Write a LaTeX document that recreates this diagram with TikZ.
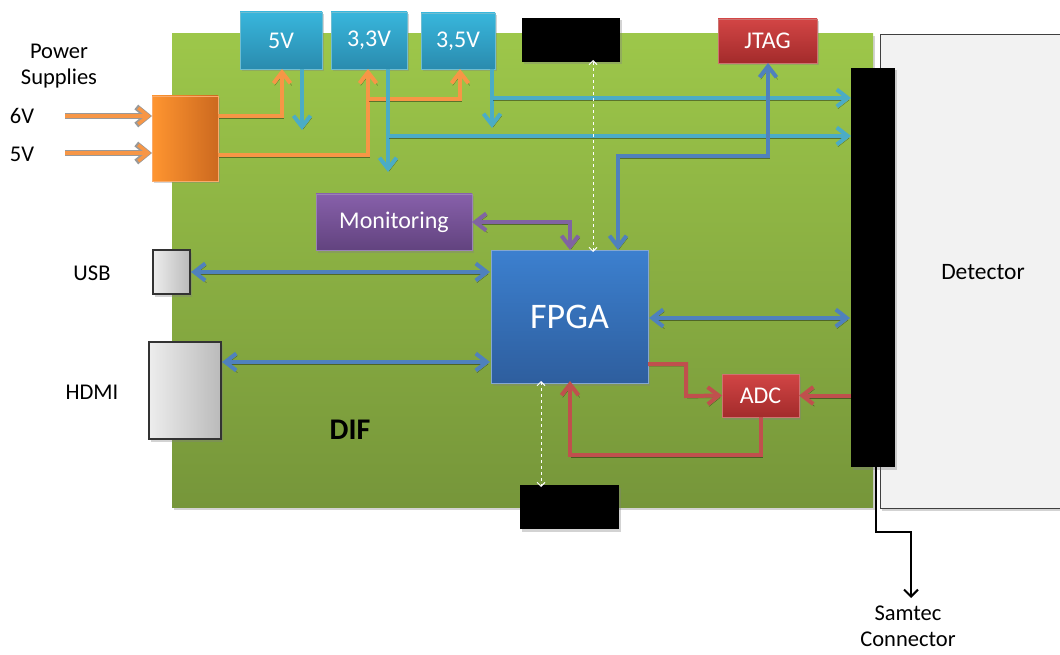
\documentclass[tikz,border=0pt]{standalone}
\usepackage{fontspec}
\setmainfont{Carlito}
\usetikzlibrary{arrows.meta,shadows}
\definecolor{boardtop}{HTML}{9DC74A}
\definecolor{boardbot}{HTML}{76963A}
\definecolor{tealtop}{HTML}{38B6DC}
\definecolor{tealbot}{HTML}{2A8BAE}
\definecolor{redtop}{HTML}{D24545}
\definecolor{redbot}{HTML}{A32B2B}
\definecolor{purtop}{HTML}{8760AA}
\definecolor{purbot}{HTML}{62437F}
\definecolor{fpgatop}{HTML}{3C80CF}
\definecolor{fpgabot}{HTML}{2E5E9E}
\definecolor{orl}{HTML}{F79646}
\definecolor{tel}{HTML}{4BACC6}
\definecolor{bll}{HTML}{4F81BD}
\definecolor{pul}{HTML}{8064A2}
\definecolor{rel}{HTML}{C0504D}
\definecolor{orleft}{HTML}{FF9530}
\definecolor{orright}{HTML}{CC691F}
\tikzset{
  x=1pt, y=-1pt,
  every node/.style={inner sep=0pt, outer sep=0pt},
  sh/.style={drop shadow={shadow xshift=1.5pt, shadow yshift=-2.5pt, opacity=0.35}},
  tbox/.style={rectangle, sh, draw=tel!80!white, line width=0.8pt, top color=tealtop, bottom color=tealbot, text=white, font=\fontsize{24}{28}\selectfont},
  rbox/.style={rectangle, sh, draw=rel!80!white, line width=0.8pt, top color=redtop, bottom color=redbot, text=white, font=\fontsize{24}{28}\selectfont},
  pbox/.style={rectangle, sh, draw=pul!80!white, line width=0.8pt, top color=purtop, bottom color=purbot, text=white, font=\fontsize{24}{28}\selectfont},
  blk/.style={rectangle, fill=black, sh},
  gbox/.style={rectangle, draw=black!80, line width=1.2pt, left color=black!7, right color=black!27, sh},
  lbl/.style={font=\fontsize{22.5}{26}\selectfont, align=center},
  tip/.style={-{Straight Barb[length=11pt,width=17pt]}},
  tips/.style={{Straight Barb[length=11pt,width=17pt]}-{Straight Barb[length=11pt,width=17pt]}},
  lsh/.style={preaction={draw=black, opacity=0.4, transform canvas={shift={(1.2pt,-2.2pt)}}}},
  oline/.style={draw=orl, line width=4pt, lsh},
  tline/.style={draw=tel, line width=4pt, lsh},
  bline/.style={draw=bll, line width=4pt, lsh},
  pline/.style={draw=pul, line width=4pt, lsh},
  rline/.style={draw=rel, line width=4pt, lsh},
  dline/.style={draw=white, line width=0.9pt, dashed, {Straight Barb[length=4pt,width=8pt]}-{Straight Barb[length=4pt,width=8pt]}},
}
\begin{document}
\begin{tikzpicture}
\useasboundingbox (0,0) rectangle (1060,655);
% detector and board
\node[rectangle, draw=black!75, line width=1pt, fill=black!5, sh, minimum width=200pt, minimum height=473pt] (det) at (980,271.5) {};
\node[rectangle, top color=boardtop, bottom color=boardbot, sh, minimum width=701pt, minimum height=473pt] (board) at (522.5,270.5) {};
\node[lbl, font=\fontsize{23.5}{28}\selectfont] (detlbl) at (983,272) {Detector};
\node[font=\fontsize{30}{34}\selectfont\bfseries] (dif) at (350,430) {DIF};

% boxes
\node[tbox, minimum width=82pt, minimum height=57pt] (v5) at (281,40.5) {5V};
\node[tbox, minimum width=76pt, minimum height=57pt] (v33) at (369,40.5) {3,3V};
\node[tbox, minimum width=74pt, minimum height=56pt] (v35) at (458,41) {3,5V};
\node[blk, minimum width=98pt, minimum height=44pt] (blktop) at (571,40) {};
\node[rbox, minimum width=99pt, minimum height=44pt] (jtag) at (767.5,41) {JTAG};
\node[rectangle, left color=orleft, right color=orright, draw=orl!80!white, line width=0.6pt, sh, minimum width=66pt, minimum height=85pt] (psu) at (185,138.5) {};
\node[pbox, minimum width=156pt, minimum height=56pt] (mon) at (394,222) {Monitoring};
\node[rectangle, sh, draw=bll!70!white, line width=0.8pt, top color=fpgatop, bottom color=fpgabot, text=white, font=\fontsize{36}{40}\selectfont, minimum width=157pt, minimum height=133pt] (fpga) at (569.5,316.5) {FPGA};
\node[gbox, minimum width=37pt, minimum height=44pt] (usb) at (171.5,272) {};
\node[gbox, minimum width=72pt, minimum height=97pt] (hdmi) at (185,390.5) {};
\node[rbox, minimum width=77pt, minimum height=43pt] (adc) at (760.5,395.5) {ADC};
\node[blk, minimum width=99pt, minimum height=44pt] (blkbot) at (569.5,507) {};
\node[blk, minimum width=44pt, minimum height=399pt] (conn) at (873,267.5) {};

% labels
\node[lbl] (ps) at (59,66) {Power\\Supplies};
\node[lbl] (l6) at (22,116) {6V};
\node[lbl] (l5) at (22,154) {5V};
\node[lbl] (lusb) at (92,273) {USB};
\node[lbl] (lhdmi) at (92,392) {HDMI};
\node[lbl, anchor=north] (samtec) at (908,606) {Samtec\\Connector};

% coordinates
\coordinate (in6) at (65,116);
\coordinate (in5) at (65,153);
\coordinate (j1) at (368,99);
\coordinate (j2) at (388,136);
\coordinate (j3) at (492,98);
\coordinate (e5) at (302,130);
\coordinate (e33) at (388,172);
\coordinate (e35) at (492,128);

% input arrows
\foreach \c in {in6,in5}{
  \draw[draw=black!40, line width=6pt, -{Straight Barb[length=11pt,width=18pt]}] (\c) -- (psu.west |- \c);
  \draw[draw=orl, line width=3.5pt, -{Straight Barb[length=10pt,width=16pt]}] (\c) -- ([xshift=-1pt]psu.west |- \c);
}

% orange supply lines
\draw[oline, tip] (psu.east |- 0,116) -| (v5.south -| 282,0);
\draw[oline, tip] (psu.east |- 0,155) -| (v33.south -| 368,0);
\draw[oline, tip] (j1) -| (v35.south -| 460,0);

% teal distribution lines
\draw[tline, tip] (v5.south -| 302,0) -- (e5);
\draw[tline, tip] (v33.south -| 388,0) -- (e33);
\draw[tline, tip] (j2) -- (conn.west |- j2);
\draw[tline, tip] (v35.south -| 492,0) -- (e35);
\draw[tline, tip] (j3) -- (conn.west |- j3);

% blue buses
\draw[bline, tips] (fpga.north -| 618,0) |- (768,156) -- (jtag.south -| 768,0);
\draw[pline, tips] (mon.east) -| (fpga.north -| 570,0);
\draw[bline, tips] ([xshift=1pt]usb.east) -- ([xshift=-1pt]fpga.west |- usb.east);
\draw[bline, tips] ([xshift=1pt]hdmi.east |- 0,362) -- ([xshift=-1pt]fpga.west |- 0,362);
\draw[bline, tips] ([xshift=1pt]fpga.east |- 0,318) -- ([xshift=-1pt]conn.west |- 0,318);

% red ADC lines
\draw[rline, tip] (fpga.east |- 0,364) -| (686,396) -- (adc.west);
\draw[rline, tip] (conn.west |- adc.east) -- (adc.east);
\draw[rline, tip] (adc.south) |- (570,455) -- ([yshift=2pt]fpga.south -| 570,0);

% dashed white links
\draw[dline] ([yshift=-2pt]fpga.north -| 593,0) -- ([yshift=2pt]blktop.south -| 593,0);
\draw[dline] ([yshift=2pt]fpga.south -| 541,0) -- ([yshift=-2pt]blkbot.north -| 541,0);

% samtec
\draw[black, line width=2pt, -{Straight Barb[length=7pt,width=14pt]}] (conn.south -| 876,0) |- (911,532) -- ([yshift=8pt]samtec.north -| 911,0);
\end{tikzpicture}
\end{document}
